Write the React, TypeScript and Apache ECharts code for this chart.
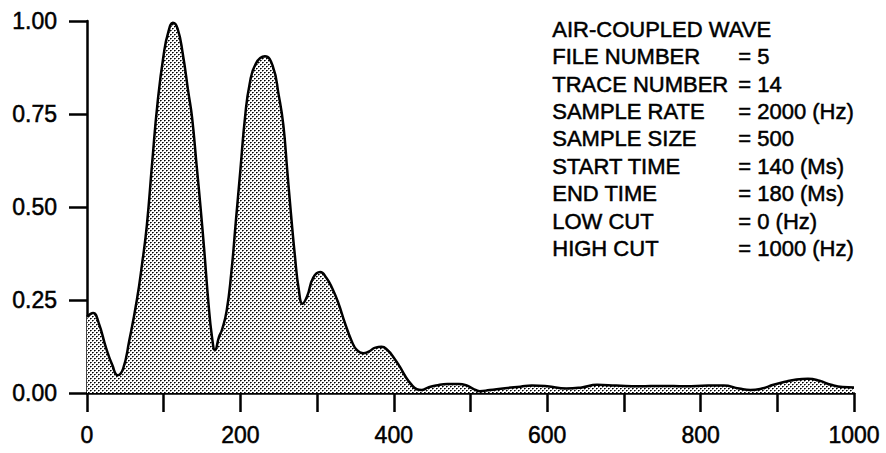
import React, { useEffect, useRef } from "react";
import * as echarts from "echarts";

// Frequency (Hz) and normalised amplitude
const freq = [
  0, 8, 15, 25, 33, 40, 47, 55, 65, 72, 78, 85, 92, 100, 106, 112, 118, 125, 132, 137,
  143, 148, 153, 158, 163, 167, 172, 176, 182, 188, 194, 200, 206, 212, 220, 232, 242,
  250, 256, 261, 266, 271, 276, 281, 287, 295, 304, 312, 320, 328, 336, 345, 352, 360,
  368, 376, 384, 392, 400, 408, 415, 422, 430, 436, 445, 455, 470, 485, 495, 503, 512,
  525, 545, 565, 580, 600, 625, 645, 665, 690, 720, 750, 780, 810, 830, 850, 865, 880,
  895, 910, 925, 940, 955, 970, 985, 1000,
];
const amplitude = [
  0.205, 0.215, 0.19, 0.12, 0.075, 0.048, 0.065, 0.14, 0.25, 0.35, 0.45, 0.62, 0.78, 0.91,
  0.97, 0.995, 0.98, 0.91, 0.81, 0.74, 0.61, 0.5, 0.38, 0.25, 0.15, 0.115, 0.15, 0.17,
  0.22, 0.32, 0.46, 0.6, 0.74, 0.83, 0.885, 0.905, 0.88, 0.8, 0.72, 0.6, 0.48, 0.37, 0.28,
  0.24, 0.26, 0.31, 0.325, 0.31, 0.28, 0.24, 0.19, 0.14, 0.115, 0.107, 0.112, 0.122,
  0.124, 0.115, 0.095, 0.07, 0.045, 0.025, 0.01, 0.008, 0.015, 0.02, 0.024, 0.024, 0.02,
  0.012, 0.005, 0.008, 0.013, 0.017, 0.02, 0.018, 0.012, 0.015, 0.022, 0.02, 0.018, 0.019,
  0.018, 0.02, 0.02, 0.012, 0.008, 0.012, 0.022, 0.03, 0.036, 0.038, 0.033, 0.022, 0.016,
  0.015,
];

const xMin = 0;
const xMax = 1000;
const xStep = 100;
const xLabelStep = 200;
const yMin = 0;
const yMax = 1;
const yStep = 0.25;

const infoLabels = [
  "AIR-COUPLED WAVE",
  "FILE NUMBER",
  "TRACE NUMBER",
  "SAMPLE RATE",
  "SAMPLE SIZE",
  "START TIME",
  "END TIME",
  "LOW CUT",
  "HIGH CUT",
];
const infoValues = [
  "",
  "= 5",
  "= 14",
  "= 2000 (Hz)",
  "= 500",
  "= 140 (Ms)",
  "= 180 (Ms)",
  "= 0 (Hz)",
  "= 1000 (Hz)",
];

const axisFont = "'Liberation Sans', Arial, sans-serif";
const textFont = "'Liberation Sans', Arial, sans-serif";

function makeStipple(): string {
  const c = document.createElement("canvas");
  c.width = 4;
  c.height = 4;
  const ctx = c.getContext("2d")!;
  ctx.fillStyle = "#ffffff";
  ctx.fillRect(0, 0, 4, 4);
  ctx.fillStyle = "#9a9a9a";
  ctx.fillRect(0, 1, 1, 1);
  ctx.fillRect(2, 3, 1, 1);
  ctx.fillStyle = "#555555";
  ctx.fillRect(1, 0, 1, 1);
  ctx.fillRect(3, 2, 1, 1);
  ctx.fillStyle = "#000000";
  ctx.fillRect(0, 0, 1, 1);
  ctx.fillRect(2, 2, 1, 1);
  return c.toDataURL();
}

export default function App() {
  const ref = useRef<HTMLDivElement>(null);

  useEffect(() => {
    if (!ref.current) return;
    const chart = echarts.init(ref.current, undefined, { renderer: "svg" });
    const stipple = makeStipple();

    const lineX = 552;
    const valueX = 738;
    const firstY = 30;
    const gap = 27.4;

    const textStyle = (t: string) => ({
      text: t,
      fill: "#000",
      font: `22px ${textFont}`,
      stroke: "#000",
      lineWidth: 0.5,
    });

    const graphics: any[] = [];
    infoLabels.forEach((t, i) => {
      graphics.push({
        type: "text",
        left: lineX,
        top: firstY + i * gap - 12,
        style: textStyle(t),
      });
      if (infoValues[i]) {
        graphics.push({
          type: "text",
          left: valueX,
          top: firstY + i * gap - 12,
          style: textStyle(infoValues[i]),
        });
      }
    });

    const labelCommon = {
      color: "#000",
      fontSize: 23,
      fontFamily: axisFont,
      textBorderColor: "#000",
      textBorderWidth: 0.5,
    };

    chart.setOption({
      animation: false,
      backgroundColor: "#ffffff",
      grid: { left: 87, right: 32, top: 21, bottom: 60, containLabel: false },
      xAxis: {
        type: "value",
        min: xMin,
        max: xMax,
        interval: xStep,
        axisLine: { show: true, lineStyle: { color: "#000", width: 2.5 } },
        axisTick: { show: true, length: 19, lineStyle: { color: "#000", width: 2.5 } },
        splitLine: { show: false },
        axisLabel: {
          ...labelCommon,
          margin: 30,
          formatter: (v: number) => (v % xLabelStep === 0 ? String(v) : ""),
        },
      },
      yAxis: {
        type: "value",
        min: yMin,
        max: yMax,
        interval: yStep,
        axisLine: { show: true, lineStyle: { color: "#000", width: 2.5 } },
        axisTick: { show: true, length: 18, lineStyle: { color: "#000", width: 2.5 } },
        splitLine: { show: false },
        axisLabel: {
          ...labelCommon,
          margin: 30,
          formatter: (v: number) => v.toFixed(2),
        },
      },
      series: [
        {
          type: "line",
          data: freq.map((f, i) => [f, amplitude[i]]),
          smooth: 0.5,
          showSymbol: false,
          lineStyle: { color: "#000", width: 2.5 },
          areaStyle: { color: { image: stipple, repeat: "repeat" } as any, opacity: 1 },
          z: 1,
        },
      ],
      graphic: graphics,
    });

    return () => chart.dispose();
  }, []);

  return (
    <div
      ref={ref}
      style={{ position: "absolute", left: 0, top: 0, width: 886, height: 453, background: "#fff" }}
    />
  );
}
